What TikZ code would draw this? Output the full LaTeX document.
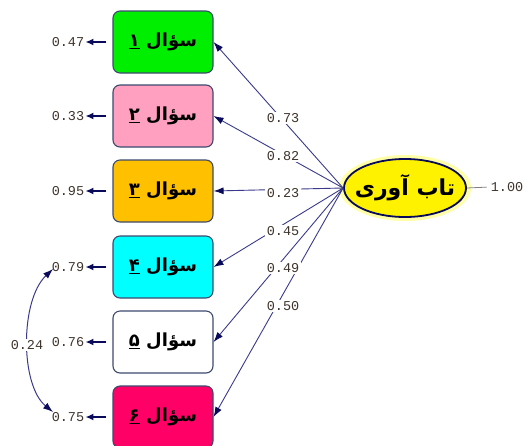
\documentclass[tikz,border=0pt]{standalone}
\usepackage{fontspec}
\usetikzlibrary{arrows.meta,shapes.geometric}
\TeXXeTstate=1
\newfontfamily\arabicfont[Script=Arabic]{DejaVu Sans}
\newfontfamily\numfont{Liberation Mono}
\definecolor{linec}{HTML}{3A3A8C}
\definecolor{tipc}{HTML}{0A0A5A}
\definecolor{numc}{HTML}{3E342C}
\definecolor{boxc}{HTML}{3C4A6E}
\definecolor{c1}{HTML}{00EE00}
\definecolor{c2}{HTML}{FFA0C0}
\definecolor{c3}{HTML}{FFC000}
\definecolor{c4}{HTML}{00FFFF}
\definecolor{c5}{HTML}{FFFFFF}
\definecolor{c6}{HTML}{FF0066}
\definecolor{halo}{HTML}{FFFFA8}
\newcommand{\qtext}[1]{{\arabicfont\bfseries\fontsize{18}{20}\selectfont\beginR سؤال \underline{#1}\endR}}
\begin{document}
\begin{tikzpicture}[x=1pt,y=-1pt,
  qbox/.style={draw=boxc,line width=1.1pt,rounded corners=7pt,minimum width=100pt,minimum height=62pt,inner sep=0pt},
  num/.style={font=\numfont\fontsize{13.5}{15}\selectfont,text=numc,inner sep=1pt},
  lbl/.style={num,fill=white,inner sep=1.5pt},
  tip/.style={Latex[length=10pt,width=7pt,color=tipc]},
  arr/.style={draw=linec,line width=0.9pt,-{Latex[length=10pt,width=7pt,color=tipc]}},
  earr/.style={draw=tipc,line width=1.6pt,-{Latex[length=8pt,width=7pt,color=tipc]}},
  biarr/.style={draw=linec,line width=1pt,{Latex[length=10pt,width=7pt,color=tipc]}-{Latex[length=10pt,width=7pt,color=tipc]}}
]
\useasboundingbox (0,0) rectangle (524,445);
% boxes
\node[qbox,fill=c1] (b1) at (163,42) {\qtext{۱}};
\node[qbox,fill=c2] (b2) at (163,116) {\qtext{۲}};
\node[qbox,fill=c3] (b3) at (163,191) {\qtext{۳}};
\node[qbox,fill=c4] (b4) at (163,267) {\qtext{۴}};
\node[qbox,fill=c5] (b5) at (163,342) {\qtext{۵}};
\node[qbox,fill=c6] (b6) at (163,417) {\qtext{۶}};
% latent
\fill[halo] (405,188) ellipse [x radius=66pt, y radius=33pt];
\node[draw=tipc,line width=1.8pt,fill=yellow,ellipse,minimum width=122pt,minimum height=58pt,inner sep=0pt,
  label={[font=\arabicfont\bfseries\fontsize{22}{26}\selectfont]center:\beginR تاب آوری\endR}] (e) at (405,188) {};
% error labels
\node[num] (r1) at (68,42) {0.47};
\node[num] (r2) at (68,116) {0.33};
\node[num] (r3) at (68,191) {0.95};
\node[num] (r4) at (68,267) {0.79};
\node[num] (r5) at (68,342) {0.76};
\node[num] (r6) at (68,417) {0.75};
\foreach \i in {1,...,6} {
  \draw[earr,shorten <=6pt,shorten >=0pt] (b\i.west) -- (r\i.east);
}
% loadings
\foreach \i in {1,...,6} {
  \draw[arr] (e.west) -- (b\i.east);
}
\node[lbl] at (283,118) {0.73};
\node[lbl] at (283,156) {0.82};
\node[lbl] at (283,193) {0.23};
\node[lbl] at (283,231) {0.45};
\node[lbl] at (283,268) {0.49};
\node[lbl] at (283,306) {0.50};
% variance of latent
\node[num] (v) at (507,187) {1.00};
\draw[gray,line width=0.8pt,shorten >=3pt] (e.east) -- (v.west);
% covariance
\coordinate (k4) at (53,269);
\coordinate (k6) at (53,412);
\draw[biarr] (k4) .. controls (20,300) and (20,385) .. (k6);
\node[lbl] at (27,345) {0.24};
\end{tikzpicture}
\end{document}
